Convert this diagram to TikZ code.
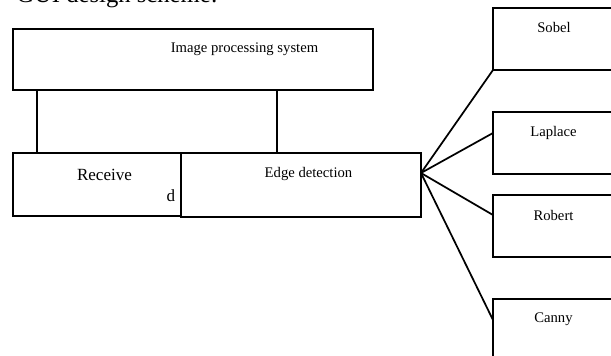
\documentclass[tikz,border=0pt]{standalone}
\usepackage{fontspec}
\setmainfont{Liberation Serif}
\begin{document}
\begin{tikzpicture}[x=0.75pt,y=-0.75pt,
  box/.style={draw=black,line width=1.3pt,inner sep=0pt},
  lbl/.style={inner sep=0pt,font=\fontsize{11}{13}\selectfont},
  biglbl/.style={inner sep=0pt,font=\fontsize{12.8}{15}\selectfont},
  conn/.style={draw=black,line width=1.3pt}]
\useasboundingbox (0,0) rectangle (611,356);
\clip (0,0) rectangle (611,356);
\fill[white] (0,0) rectangle (611,356);
% title (cut off at the top, as in the reference)
\node[anchor=base west,inner sep=0pt,font=\fontsize{18.5}{22}\selectfont] (title) at (16,2.5) {GUI design scheme:};
% boxes
\draw[box] (13,29) rectangle (373,90);
\draw[box] (13,153) rectangle (181,216);
\draw[box] (181,153) rectangle (421,217);
\draw[box] (493,8) rectangle (640,70);
\draw[box] (493,112) rectangle (640,174);
\draw[box] (493,195) rectangle (640,257);
\draw[box] (493,299) rectangle (640,370);
% named anchor points
\coordinate (sysA) at (37,90);
\coordinate (sysB) at (277,90);
\coordinate (recTop) at (37,153);
\coordinate (edTop) at (277,153);
\coordinate (fan) at (421,173);
\coordinate (sobIn) at (493,70);
\coordinate (lapIn) at (493,133);
\coordinate (robIn) at (493,215);
\coordinate (canIn) at (493,320);
% texts
\node[lbl] (tsys) at (244.5,49) {Image processing system};
\node[biglbl] (trec) at (104.5,175) {Receive};
\node[biglbl] (td) at (171,195.5) {d};
\node[lbl] (ted) at (308.5,174) {Edge detection};
\node[lbl] (tsob) at (554,27.5) {Sobel};
\node[lbl] (tlap) at (553.5,132.5) {Laplace};
\node[lbl] (trob) at (553.5,215.5) {Robert};
\node[lbl] (tcan) at (553.5,319) {Canny};
% connectors
\draw[conn] (sysA) -- (recTop);
\draw[conn] (sysB) -- (edTop);
\draw[conn] (fan) -- (sobIn);
\draw[conn] (fan) -- (lapIn);
\draw[conn] (fan) -- (robIn);
\draw[conn] (fan) -- (canIn);
\end{tikzpicture}
\end{document}
